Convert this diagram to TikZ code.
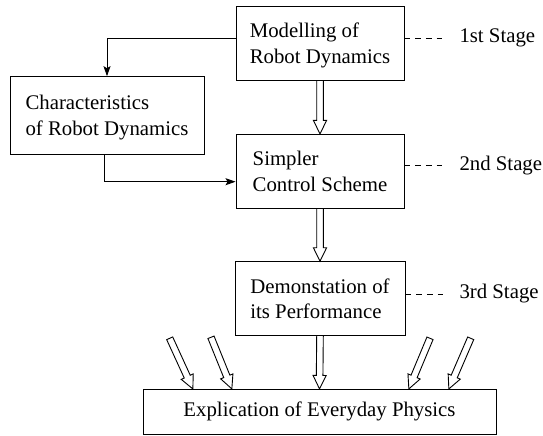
\documentclass[tikz,border=0pt]{standalone}
\usepackage{fontspec}
\setmainfont{Liberation Serif}
\usetikzlibrary{calc,arrows.meta}
% hollow arrow, open at its tail (shaft leaves a box)
\newcommand\openhollow[2]{%
  \draw[hollowline] ($(#1)!3.3pt!90:(#2)$) -- ($(#2)!13.5pt!(#1)!3.3pt!-90:(#1)$)
    -- ($(#2)!13.5pt!(#1)!6.6pt!-90:(#1)$) -- (#2)
    -- ($(#2)!13.5pt!(#1)!6.6pt!90:(#1)$) -- ($(#2)!13.5pt!(#1)!3.3pt!90:(#1)$)
    -- ($(#1)!3.3pt!-90:(#2)$);}
% hollow arrow, closed at its tail
\newcommand\closedhollow[2]{%
  \draw[hollowline] ($(#1)!3.3pt!90:(#2)$) -- ($(#2)!13.5pt!(#1)!3.3pt!-90:(#1)$)
    -- ($(#2)!13.5pt!(#1)!6.6pt!-90:(#1)$) -- (#2)
    -- ($(#2)!13.5pt!(#1)!6.6pt!90:(#1)$) -- ($(#2)!13.5pt!(#1)!3.3pt!90:(#1)$)
    -- ($(#1)!3.3pt!-90:(#2)$) -- cycle;}
\begin{document}
\begin{tikzpicture}[x=1pt,y=-1pt,
  txt/.style={font=\fontsize{20.8pt}{25.6pt}\selectfont},
  box/.style={txt, draw, line width=0.9pt, align=left, inner sep=0pt, text depth=0pt},
  conn/.style={line width=0.9pt, -{Stealth[length=10pt,width=7pt,inset=2pt]}},
  stage/.style={line width=0.9pt, dash pattern=on 5.7pt off 5pt},
  stagelbl/.style={txt, anchor=west, inner sep=0pt},
  hollowline/.style={line width=0.9pt, line join=miter}]
\useasboundingbox (0,0) rectangle (543,436);

\node[box, minimum width=168pt, minimum height=74pt] (m) at (320,43) {Modelling of\\Robot Dynamics};
\node[box, minimum width=194pt, minimum height=77.3pt] (c) at (107,115.3) {Characteristics\\of Robot Dynamics};
\node[box, minimum width=168pt, minimum height=73.7pt] (s) at (320,171.2) {Simpler\\Control Scheme};
\node[box, minimum width=170pt, minimum height=74pt] (d) at (320,298.7) {Demonstation of\\its Performance};
\node[txt, draw, line width=0.9pt, inner sep=0pt, minimum width=353pt, minimum height=44.7pt] (e) at (319.5,411.7) {Explication of Everyday Physics};

\node[stagelbl] (l1) at (459.3,38.3) {1st Stage};
\node[stagelbl] (l2) at (459.3,165.7) {2nd Stage};
\node[stagelbl] (l3) at (459.3,294) {3rd Stage};

\draw[stage] (m.east |- l1.west) -- ([xshift=-12.3pt]l1.west);
\draw[stage] (s.east |- l2.west) -- ([xshift=-12.3pt]l2.west);
\draw[stage] (d.east |- l3.west) -- ([xshift=-12.3pt]l3.west);

\draw[conn] (m.west |- l1.west) -| (c.north);
\draw[conn] ([xshift=-2.4pt]c.south) |- ([yshift=-10.5pt]s.west);

\openhollow{m.south}{s.north}
\openhollow{s.south}{d.north}
\openhollow{d.south}{e.north}

\coordinate (s1) at (169.7,338.3);
\coordinate (s2) at (211,337.3);
\coordinate (s3) at (430,338.3);
\coordinate (s4) at (470.7,338.3);
\coordinate (t1) at ($(e.north west)+(50.3,0)$);
\coordinate (t2) at ($(e.north west)+(89.3,0)$);
\coordinate (t3) at ($(e.north west)+(266.3,0)$);
\coordinate (t4) at ($(e.north west)+(306.3,0)$);
\closedhollow{s1}{t1}
\closedhollow{s2}{t2}
\closedhollow{s3}{t3}
\closedhollow{s4}{t4}
\end{tikzpicture}
\end{document}
